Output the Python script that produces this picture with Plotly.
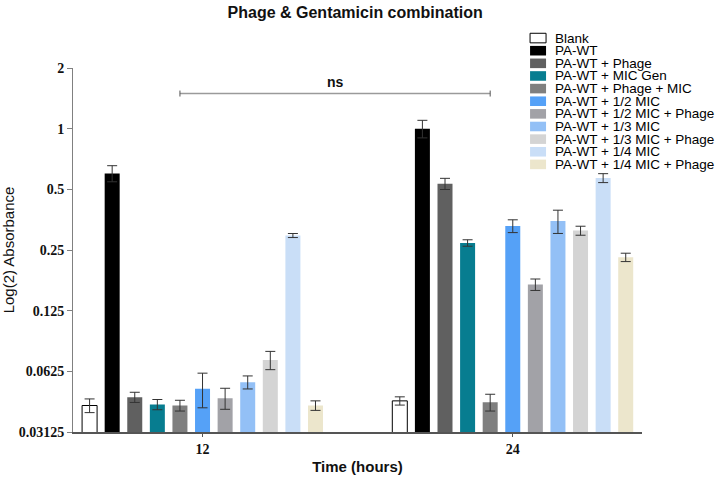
import plotly.graph_objects as go

# ---------------- data ----------------
groups = [0, 1]
group_labels = ["12", "24"]
series_names = [
    "Blank", "PA-WT", "PA-WT + Phage", "PA-WT + MIC Gen", "PA-WT + Phage + MIC",
    "PA-WT + 1/2 MIC", "PA-WT + 1/2 MIC + Phage", "PA-WT + 1/3 MIC",
    "PA-WT + 1/3 MIC + Phage", "PA-WT + 1/4 MIC", "PA-WT + 1/4 MIC + Phage",
]
mean_12 = [0.0423, 0.60, 0.0465, 0.0428, 0.0423, 0.0512, 0.0460, 0.0552, 0.0711, 0.295, 0.0423]
sd_12 = [0.0033, 0.055, 0.0027, 0.0025, 0.0026, 0.0100, 0.0055, 0.0041, 0.0074, 0.0068, 0.0023]
mean_24 = [0.0446, 1.00, 0.533, 0.271, 0.0439, 0.329, 0.1685, 0.348, 0.312, 0.569, 0.230]
sd_24 = [0.0021, 0.10, 0.034, 0.010, 0.0042, 0.024, 0.011, 0.046, 0.016, 0.029, 0.011]
colors = [
    "#ffffff", "#000000", "#606060", "#077d90", "#7f7f7f", "#55a1f7",
    "#a2a2a7", "#93c0f6", "#d4d4d4", "#c9def7", "#ece6cc",
]
y_ticks = [0.03125, 0.0625, 0.125, 0.25, 0.5, 1, 2]
y_tick_labels = ["0.03125", "0.0625", "0.125", "0.25", "0.5", "1", "2"]

# ---------------- layout constants ----------------
W, H = 724, 480
P_LEFT, P_RIGHT, P_TOP, P_BOTTOM = 72.7, 642.0, 67.7, 432.5
ML, MR = P_LEFT, W - P_RIGHT
MT, MB = P_TOP, H - P_BOTTOM
PW, PH = W - ML - MR, H - MT - MB
BARGAP = 0.199
NS = len(series_names)
X_CENTER_12 = 202.3
UNIT = 310.4
XR = [-(X_CENTER_12 - P_LEFT) / UNIT, (P_RIGHT - X_CENTER_12) / UNIT]


def px_x(x):
    return (x - P_LEFT) / PW


def px_y(y):
    return (P_BOTTOM - y) / PH


fig = go.Figure()
for i, name in enumerate(series_names):
    fig.add_trace(go.Bar(
        x=groups,
        y=[mean_12[i], mean_24[i]],
        name=name,
        marker=dict(color=colors[i],
                    line=dict(color="#000000" if i == 0 else colors[i], width=1 if i == 0 else 0)),
        error_y=dict(type="data", array=[sd_12[i], sd_24[i]], visible=True,
                     color="#333333", thickness=1, width=5),
        showlegend=False,
    ))

shapes = []
annotations = []

# manual compact legend
leg_y0, leg_dy = 37.7, 12.66
for i, name in enumerate(series_names):
    yc = leg_y0 + i * leg_dy
    shapes.append(dict(type="rect", xref="paper", yref="paper",
                       x0=px_x(530), x1=px_x(546), y0=px_y(yc + 4.8), y1=px_y(yc - 4.8),
                       fillcolor=colors[i],
                       line=dict(color="#000000" if i == 0 else colors[i], width=1 if i == 0 else 0)))
    annotations.append(dict(text=name, xref="paper", yref="paper", x=px_x(553), y=px_y(yc),
                            xanchor="left", yanchor="middle", showarrow=False,
                            font=dict(family="Liberation Sans, Arial", size=13.5, color="#000000")))

# significance bracket between the "Phage + MIC" bars of both time points
pitch = (1 - BARGAP) / NS
bi = series_names.index("PA-WT + Phage + MIC")
xa = groups[0] + (bi - (NS - 1) / 2) * pitch
xb = groups[1] + (bi - (NS - 1) / 2) * pitch
yb = px_y(93.3)
shapes.append(dict(type="line", xref="x", yref="paper", x0=xa, x1=xb, y0=yb, y1=yb,
                   line=dict(color="#9a9a9a", width=1.5)))
for xx in (xa, xb):
    shapes.append(dict(type="line", xref="x", yref="paper", x0=xx, x1=xx,
                       y0=yb - 3 / PH, y1=yb + 3 / PH, line=dict(color="#555555", width=1)))
annotations.append(dict(text="ns", xref="x", yref="paper", x=(xa + xb) / 2, y=px_y(82),
                        xanchor="center", yanchor="middle", showarrow=False,
                        font=dict(family="Liberation Sans, Arial", size=14, color="#111111", weight="bold")))

fig.update_layout(
    width=W, height=H,
    margin=dict(l=ML, r=MR, t=MT, b=MB, autoexpand=False),
    paper_bgcolor="white", plot_bgcolor="white",
    barmode="group", bargap=BARGAP, bargroupgap=0.336,
    title=dict(text="Phage & Gentamicin combination", x=px_x(355), xref="paper",
               y=1 - 12 / H, yref="container", xanchor="center", yanchor="middle",
               font=dict(family="Liberation Sans, Arial", size=16, color="#111111", weight="bold")),
    shapes=shapes, annotations=annotations,
    xaxis=dict(range=XR, tickvals=groups, ticktext=group_labels, showgrid=False, zeroline=False,
               showline=True, linecolor="#555555", linewidth=1.5, ticks="outside", ticklen=3,
               tickcolor="#555555",
               tickfont=dict(family="Liberation Serif, Times New Roman", size=14, color="#111111", weight="bold"),
               title=dict(text="Time (hours)", standoff=6,
                          font=dict(family="Liberation Sans, Arial", size=15, color="#111111", weight="bold"))),
    yaxis=dict(type="log", range=[-1.50515, 0.30103], tickvals=y_ticks, ticktext=y_tick_labels,
               showgrid=False, zeroline=False, showline=True, linecolor="#808080", linewidth=1,
               ticks="outside", ticklen=5, tickcolor="#808080",
               tickfont=dict(family="Liberation Serif, Times New Roman", size=14, color="#111111", weight="bold"),
               title=dict(text="Log(2) Absorbance", standoff=19,
                          font=dict(family="Liberation Sans, Arial", size=15, color="#111111"))),
)

fig.write_html("out.html", config={"displayModeBar": False},
               post_script="document.body.style.margin='0';document.body.style.padding='0';")
